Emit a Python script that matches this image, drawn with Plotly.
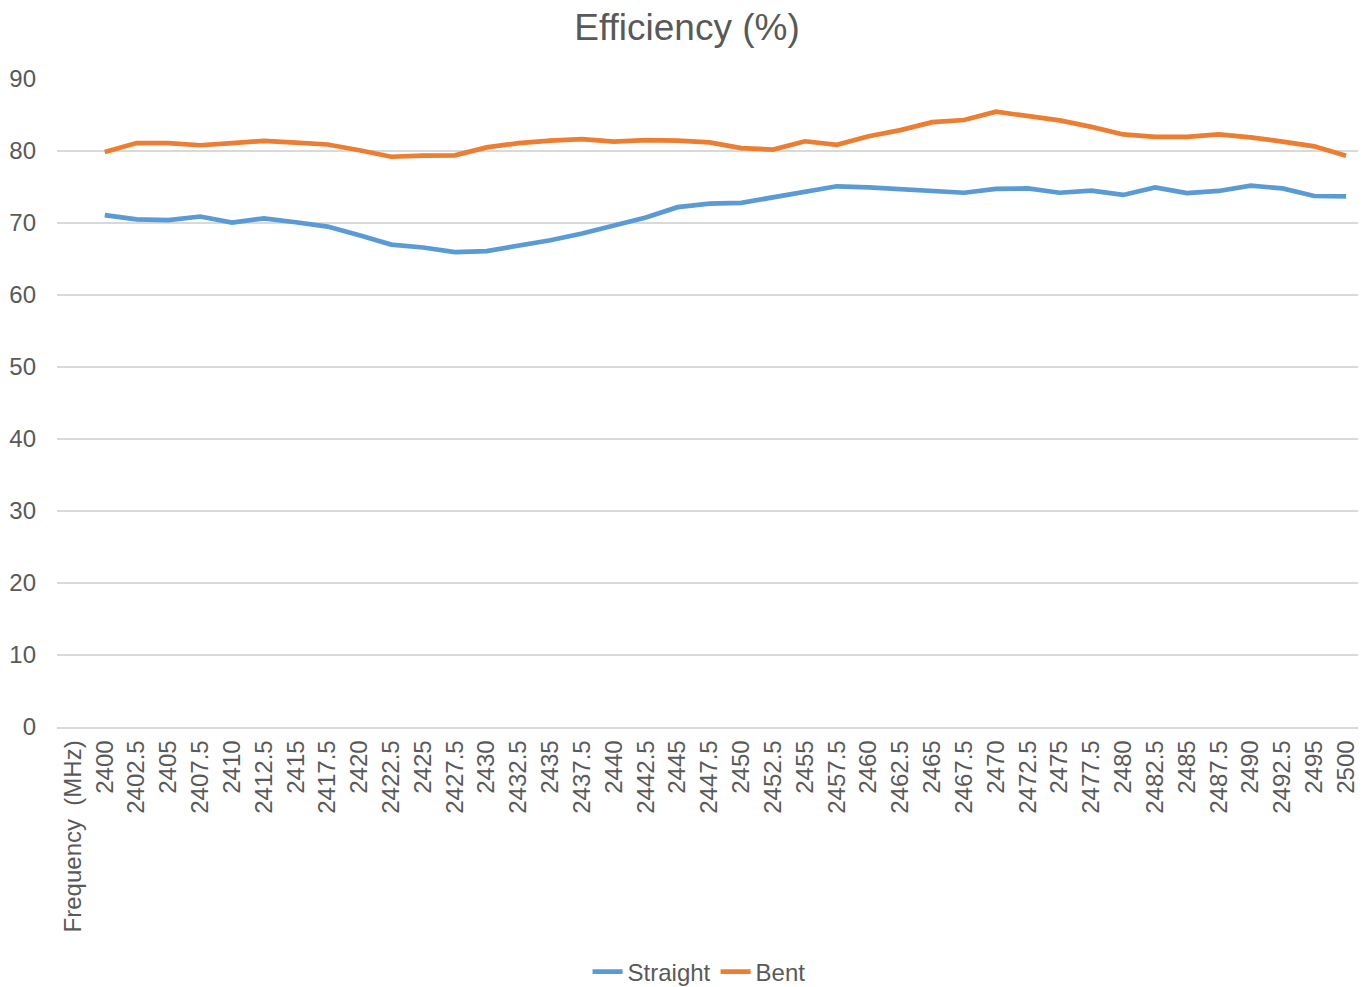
import plotly.graph_objects as go

axis_label = "Frequency\u00a0 (MHz)"
frequencies = ["2400", "2402.5", "2405", "2407.5", "2410", "2412.5", "2415", "2417.5",
               "2420", "2422.5", "2425", "2427.5", "2430", "2432.5", "2435", "2437.5",
               "2440", "2442.5", "2445", "2447.5", "2450", "2452.5", "2455", "2457.5",
               "2460", "2462.5", "2465", "2467.5", "2470", "2472.5", "2475", "2477.5",
               "2480", "2482.5", "2485", "2487.5", "2490", "2492.5", "2495", "2500"]

straight = [71.1, 70.5, 70.4, 70.9, 70.05, 70.65, 70.1, 69.5, 68.3, 67.0,
            66.6, 65.95, 66.1, 66.85, 67.6, 68.55, 69.6, 70.75, 72.2, 72.7,
            72.8, 73.6, 74.35, 75.1, 74.95, 74.7, 74.4, 74.2, 74.75, 74.8,
            74.2, 74.5, 73.9, 74.95, 74.15, 74.45, 75.2, 74.8, 73.75, 73.7]

bent = [79.85, 81.1, 81.1, 80.8, 81.1, 81.4, 81.15, 80.9, 80.1, 79.2,
        79.35, 79.4, 80.5, 81.1, 81.45, 81.65, 81.3, 81.5, 81.45, 81.2,
        80.4, 80.2, 81.35, 80.85, 82.05, 82.9, 84.0, 84.3, 85.45, 84.9,
        84.25, 83.35, 82.3, 81.95, 81.95, 82.3, 81.9, 81.3, 80.65, 79.35]

y_ticks = [0, 10, 20, 30, 40, 50, 60, 70, 80, 90]

categories = [axis_label] + frequencies
TXT = "#595959"
GRID = "#d9d9d9"
FONT = "Liberation Sans, Arial, sans-serif"

W, H = 1358, 979

fig = go.Figure()
fig.add_trace(go.Scatter(x=categories, y=[None] + straight, mode="lines", name="Straight",
                         line=dict(color="#5b9bd5", width=4.7)))
fig.add_trace(go.Scatter(x=categories, y=[None] + bent, mode="lines", name="Bent",
                         line=dict(color="#ed7d31", width=4.7)))

fig.update_layout(
    width=W, height=H,
    paper_bgcolor="white", plot_bgcolor="white",
    margin=dict(l=49, r=4, t=71, b=260, autoexpand=False),
    font=dict(family=FONT, color=TXT, size=24),
    title=dict(text="Efficiency (%)", x=0.5, xanchor="center", y=1 - 19 / H, yanchor="middle",
               font=dict(size=37, color=TXT, family=FONT)),
    showlegend=True,
    legend=dict(orientation="h", x=0.492, xanchor="center", y=-0.378, yanchor="middle",
                font=dict(size=24, color=TXT), bgcolor="rgba(0,0,0,0)"),
    xaxis=dict(type="category", categoryorder="array", categoryarray=categories,
               range=[-0.5, len(categories) - 0.5], tickangle=-90,
               showgrid=False, showline=True, linecolor=GRID, linewidth=1.5,
               ticks="", tickfont=dict(size=24, color=TXT), ticklabelstandoff=2,
               zeroline=False, automargin=False),
    yaxis=dict(range=[0, 90], tickvals=y_ticks, showgrid=True, gridcolor=GRID, gridwidth=1.5,
               zeroline=False, showline=False, ticks="", tickfont=dict(size=24, color=TXT),
               ticklabelstandoff=20, automargin=False),
)

fig.write_html("out.html")
